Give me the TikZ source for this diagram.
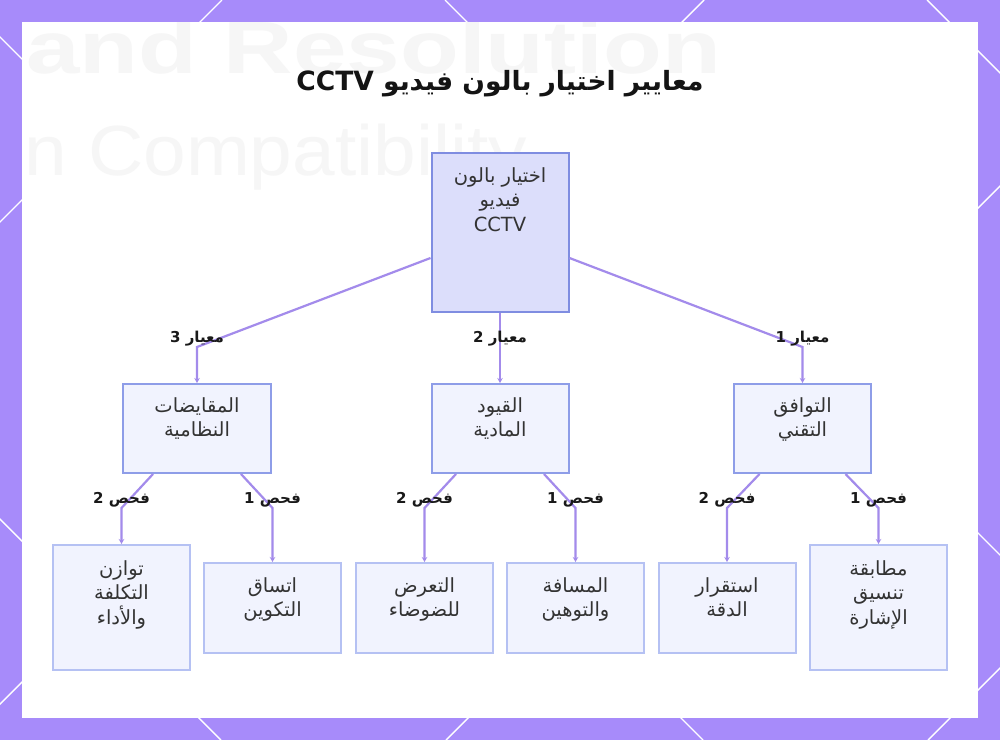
\documentclass[tikz,border=0pt]{standalone}
\usepackage{fontspec}
\setmainfont{DejaVu Sans}
\newfontfamily\arabicfont[Script=Arabic]{DejaVu Sans}
\newfontfamily\wmfont{Liberation Sans}
\TeXXeTstate=1
\usetikzlibrary{arrows.meta}
\definecolor{bordpurple}{HTML}{A78BFA}
\definecolor{edgecol}{HTML}{A38BEB}
\definecolor{rootfill}{HTML}{DCDEFB}
\definecolor{rootdraw}{HTML}{7F8DE1}
\definecolor{boxfill}{HTML}{F1F3FE}
\definecolor{middraw}{HTML}{8E9DE8}
\definecolor{leafdraw}{HTML}{B5C1F3}
\definecolor{txtcol}{HTML}{333333}
\definecolor{wmcol}{HTML}{F6F6F6}
\newcommand\arl[1]{\beginR #1\endR}
\newcommand\ltr[1]{\beginL #1\endL{}}
\tikzset{
  rootbox/.style={draw=rootdraw, fill=rootfill, line width=2pt, inner sep=0pt},
  midbox/.style={draw=middraw, fill=boxfill, line width=2pt, inner sep=0pt},
  leafbox/.style={draw=leafdraw, fill=boxfill, line width=2pt, inner sep=0pt},
  txt/.style={font=\arabicfont\fontsize{19.5}{24.5}\selectfont, text=txtcol, align=center, inner sep=0pt, anchor=north},
  lbl/.style={font=\arabicfont\bfseries\fontsize{15}{18}\selectfont, text=black!90, inner sep=0pt},
  edge/.style={draw=edgecol, line width=2.2pt, -{Stealth[length=5pt,width=5.5pt]}},
}
\begin{document}
\begin{tikzpicture}[x=1pt,y=-1pt]
\useasboundingbox (0,0) rectangle (1000,740);
% border with lattice lines
\fill[bordpurple] (0,0) rectangle (1000,740);
\begin{scope}
\clip (0,0) rectangle (1000,740);
\foreach \c in {-260,222,704,1186,1668}{
  \draw[white, line width=1.4pt] (\c,0) -- (\c-740,740);
}
\foreach \c in {-519,-37,445,927}{
  \draw[white, line width=1.4pt] (\c,0) -- (\c+740,740);
}
\end{scope}
\fill[white] (22,22) rectangle (978,718);
% faint watermark (blurred background image)
\begin{scope}
\clip (22,22) rectangle (978,718);
\node[font=\wmfont\bfseries\fontsize{74}{74}\selectfont, text=wmcol, anchor=base west, inner sep=0pt, xscale=1.3] (wm1) at (26,73) {and Resolution};
\node[font=\wmfont\fontsize{71}{71}\selectfont, text=wmcol, anchor=base west, inner sep=0pt, xscale=1.08] (wm2) at (24,175) {n Compatibility};
\end{scope}
% title
\node[font=\arabicfont\bfseries\fontsize{26.5}{30}\selectfont, text=black!92, inner sep=0pt] (title) at (500,84) {\arl{معايير اختيار بالون فيديو \ltr{CCTV}}};
% root
\node[rootbox, minimum width=137pt, minimum height=159pt] (root) at (500,232.5) {};
\node[txt] (troot) at ([yshift=-15pt]root.north) {\arl{اختيار بالون}\\\arl{فيديو}\\CCTV};
% level 2
\node[midbox, minimum width=148pt, minimum height=89pt] (c3) at (197,428.5) {};
\node[midbox, minimum width=137pt, minimum height=89pt] (c2) at (500,428.5) {};
\node[midbox, minimum width=137pt, minimum height=89pt] (c1) at (802.5,428.5) {};
\node[txt] (tc3) at ([yshift=-14pt]c3.north) {\arl{المقايضات}\\\arl{النظامية}};
\node[txt] (tc2) at ([yshift=-14pt]c2.north) {\arl{القيود}\\\arl{المادية}};
\node[txt] (tc1) at ([yshift=-14pt]c1.north) {\arl{التوافق}\\\arl{التقني}};
% level 3
\node[leafbox, minimum width=137pt, minimum height=125pt] (d1) at (121.5,607.5) {};
\node[leafbox, minimum width=137pt, minimum height=90pt] (d2) at (272.5,608) {};
\node[leafbox, minimum width=137pt, minimum height=90pt] (d3) at (424.5,608) {};
\node[leafbox, minimum width=137pt, minimum height=90pt] (d4) at (575.5,608) {};
\node[leafbox, minimum width=137pt, minimum height=90pt] (d5) at (727,608) {};
\node[leafbox, minimum width=137pt, minimum height=125pt] (d6) at (878.5,607.5) {};
\node[txt] (td1) at ([yshift=-16pt]d1.north) {\arl{توازن}\\\arl{التكلفة}\\\arl{والأداء}};
\node[txt] (td2) at ([yshift=-15pt]d2.north) {\arl{اتساق}\\\arl{التكوين}};
\node[txt] (td3) at ([yshift=-15pt]d3.north) {\arl{التعرض}\\\arl{للضوضاء}};
\node[txt] (td4) at ([yshift=-15pt]d4.north) {\arl{المسافة}\\\arl{والتوهين}};
\node[txt] (td5) at ([yshift=-15pt]d5.north) {\arl{استقرار}\\\arl{الدقة}};
\node[txt] (td6) at ([yshift=-16pt]d6.north) {\arl{مطابقة}\\\arl{تنسيق}\\\arl{الإشارة}};
% bend coordinates
\coordinate (b3) at (197,347);
\coordinate (b2) at (500,347);
\coordinate (b1) at (802.5,347);
\coordinate (e2) at (121.5,508);
\coordinate (e1) at (272.5,508);
\coordinate (e4) at (424.5,508);
\coordinate (e3) at (575.5,508);
\coordinate (e6) at (727,508);
\coordinate (e5) at (878.5,508);
% connectors
\draw[edge] ([yshift=-25.5pt]root.west) -- (b3) -- (c3.north);
\draw[edge] (root.south) -- (b2) -- (c2.north);
\draw[edge] ([yshift=-25.5pt]root.east) -- (b1) -- (c1.north);
\draw[edge] ([xshift=-44pt]c3.south) -- (e2) -- (d1.north);
\draw[edge] ([xshift=44pt]c3.south) -- (e1) -- (d2.north);
\draw[edge] ([xshift=-44pt]c2.south) -- (e4) -- (d3.north);
\draw[edge] ([xshift=44pt]c2.south) -- (e3) -- (d4.north);
\draw[edge] ([xshift=-43pt]c1.south) -- (e6) -- (d5.north);
\draw[edge] ([xshift=43pt]c1.south) -- (e5) -- (d6.north);
% labels
\node[lbl] (l3) at (197,339) {\arl{معيار \ltr{3}}};
\node[lbl] (l2) at (500,339) {\arl{معيار \ltr{2}}};
\node[lbl] (l1) at (802.5,339) {\arl{معيار \ltr{1}}};
\node[lbl] (k2) at (121.5,500) {\arl{فحص \ltr{2}}};
\node[lbl] (k1) at (272.5,500) {\arl{فحص \ltr{1}}};
\node[lbl] (k4) at (424.5,500) {\arl{فحص \ltr{2}}};
\node[lbl] (k3) at (575.5,500) {\arl{فحص \ltr{1}}};
\node[lbl] (k6) at (727,500) {\arl{فحص \ltr{2}}};
\node[lbl] (k5) at (878.5,500) {\arl{فحص \ltr{1}}};
\end{tikzpicture}
\end{document}
